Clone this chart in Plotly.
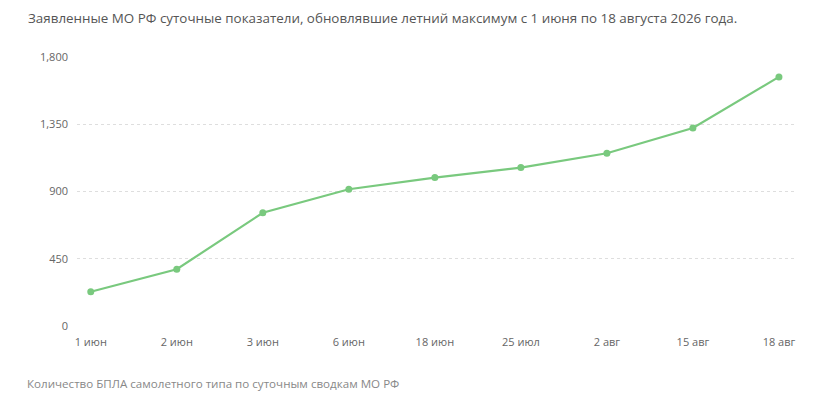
import plotly.graph_objects as go

dates = ["1 июн", "2 июн", "3 июн", "6 июн", "18 июн", "25 июл", "2 авг", "15 авг", "18 авг"]
drones = [229, 380, 758, 915, 993, 1060, 1156, 1325, 1667]
y_ticks = [0, 450, 900, 1350, 1800]

green = "#79c97e"

fig = go.Figure()
fig.add_trace(go.Scatter(
    x=dates, y=drones, mode="lines+markers",
    line=dict(color=green, width=2.2),
    marker=dict(color=green, size=7),
    hoverinfo="x+y",
))

fig.update_layout(
    width=835, height=400,
    margin=dict(l=69, r=46, t=49, b=82),
    paper_bgcolor="white", plot_bgcolor="white",
    font=dict(family="Open Sans", size=11, color="#666"),
    showlegend=False,
    title=dict(text="Заявленные МО РФ суточные показатели, обновлявшие летний максимум с 1 июня по 18 августа 2026 года.",
               x=0.024, xanchor="left", y=0.975, yanchor="middle",
               font=dict(size=13.4, color="#555")),
    annotations=[dict(text="Количество БПЛА самолетного типа по суточным сводкам МО РФ",
                      xref="paper", yref="paper", x=-0.072, y=-0.212,
                      xanchor="left", yanchor="middle", showarrow=False,
                      font=dict(size=11.6, color="#888"))],
)
fig.update_xaxes(type="category", range=[-0.16, 8.21], showgrid=False,
                 showline=False, ticks="", ticklabelstandoff=8,
                 tickfont=dict(size=11, color="#666"))
fig.update_yaxes(range=[0, 1800], tickvals=y_ticks, tickformat=",",
                 showgrid=True, gridcolor="#dedede", griddash="dot", gridwidth=1,
                 zeroline=False, showline=False, ticks="",
                 ticklabelstandoff=8, tickfont=dict(size=11, color="#666"))

fig.write_html("out.html")
